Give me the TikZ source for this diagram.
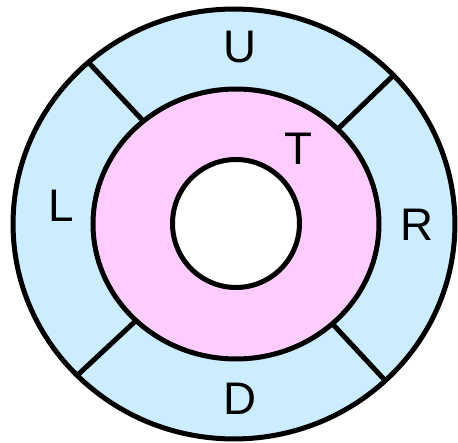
\documentclass[tikz,border=0pt]{standalone}
\usepackage{fontspec}
\setmainfont{Liberation Sans}
\usetikzlibrary{shapes.geometric}

\definecolor{ringblue}{HTML}{CCECFF}
\definecolor{ringpink}{HTML}{FFCCFF}

\begin{document}
\begin{tikzpicture}[
    x=0.02cm, y=-0.02cm,
    ring/.style={ellipse,draw,line width=0.1cm,outer sep=0pt,inner sep=0pt},
    divider/.style={line width=0.1cm},
    letter/.style={font=\fontsize{26}{30}\selectfont,inner sep=0pt},
]

\useasboundingbox (0,0) rectangle (458,443);

%----------------------------------
% Rings
%----------------------------------

\node[ring,fill=ringblue,minimum width=8.84cm,minimum height=8.6cm] (outer) at (234,224) {};
\node[ring,fill=ringpink,minimum width=5.72cm,minimum height=5.4cm] (middle) at (236,224) {};
\node[ring,fill=white,minimum width=2.54cm,minimum height=2.56cm] (hole) at (236,223.5) {};

%----------------------------------
% Dividers
%----------------------------------

\draw[divider] (outer.132) -- (middle.132);
\draw[divider] (outer.43) -- (middle.43);
\draw[divider] (outer.224) -- (middle.224);
\draw[divider] (outer.314) -- (middle.314);

%----------------------------------
% Labels
%----------------------------------

\node[letter] (up) at (240,47) {U};
\node[letter] (top) at (298,149) {T};
\node[letter] (left) at (61,206) {L};
\node[letter] (right) at (417,225) {R};
\node[letter] (down) at (240,399) {D};

\end{tikzpicture}
\end{document}
